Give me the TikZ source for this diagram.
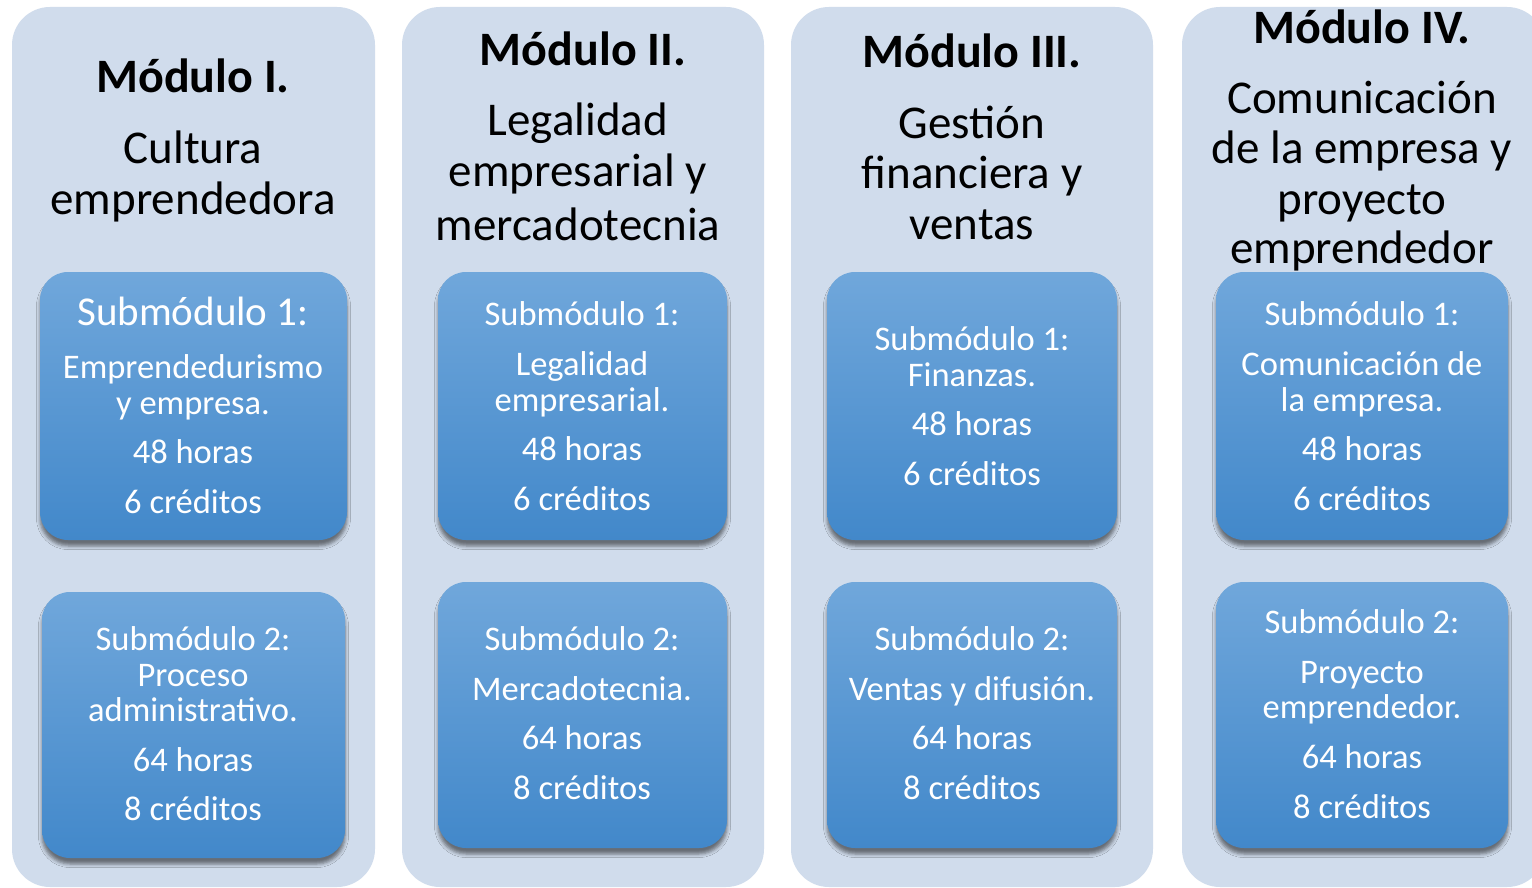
\documentclass[tikz,border=0pt]{standalone}
\usepackage{fontspec}
\setmainfont{Carlito}
\usetikzlibrary{shadows.blur}
\definecolor{panel}{RGB}{208,220,236}
\definecolor{btop}{RGB}{112,167,219}
\definecolor{bbot}{RGB}{66,136,202}
\begin{document}
\begin{tikzpicture}[x=1pt,y=-1pt,
  panelbox/.style={fill=panel, rounded corners=38pt, inner sep=0pt, minimum height=880pt},
  subbox/.style={rounded corners=28pt, top color=btop, bottom color=bbot, inner sep=0pt,
    blur shadow={shadow xshift=0pt, shadow yshift=-6pt, shadow blur radius=3.5pt, shadow opacity=50}},
  head/.style={font=\fontsize{47}{50}\selectfont, text height=0pt, text depth=0pt, inner sep=0pt, yshift=-16pt},
  headb/.style={font=\fontsize{48}{50}\selectfont\bfseries, text height=0pt, text depth=0pt, inner sep=0pt, yshift=-16pt},
  subt/.style={text=white, font=\fontsize{34.5}{36}\selectfont, text height=0pt, text depth=0pt, inner sep=0pt, yshift=-12pt},
  subbig/.style={text=white, font=\fontsize{41}{44}\selectfont, text height=0pt, text depth=0pt, inner sep=0pt, yshift=-14pt}]
\clip (0,0) rectangle (1532,888);
\fill[white] (0,0) rectangle (1532,888);
% panels
\node[panelbox, minimum width=363pt] (p1) at (193.5,447) {};
\node[panelbox, minimum width=362pt] (p2) at (583,447) {};
\node[panelbox, minimum width=362pt] (p3) at (972,447) {};
\node[panelbox, minimum width=363pt] (p4) at (1363.5,447) {};
% boxes
\node[subbox, minimum width=307pt, minimum height=268pt] (b1a) at (193.5,406) {};
\node[subbox, minimum width=289pt, minimum height=268pt] (b2a) at (582.5,406) {};
\node[subbox, minimum width=290pt, minimum height=268pt] (b3a) at (972,406) {};
\node[subbox, minimum width=292pt, minimum height=268pt] (b4a) at (1362,406) {};
\node[subbox, minimum width=303pt, minimum height=266pt] (b1b) at (193.5,725) {};
\node[subbox, minimum width=289pt, minimum height=266pt] (b2b) at (582.5,715) {};
\node[subbox, minimum width=290pt, minimum height=266pt] (b3b) at (972,715) {};
\node[subbox, minimum width=292pt, minimum height=266pt] (b4b) at (1362,715) {};
% headings
\node[headb] (h1) at (193,77) {Módulo I.};
\foreach \yy/\tx [count=\i] in {148/Cultura,198/emprendedora}
  \node[head] (h1l\i) at (193,\yy) {\tx};
\node[headb] (h2) at (583,50) {Módulo II.};
\foreach \yy/\tx [count=\i] in {120/Legalidad,170/empresarial y,224/mercadotecnia}
  \node[head] (h2l\i) at (578,\yy) {\tx};
\node[headb] (h3) at (972,52) {Módulo III.};
\foreach \yy/\tx [count=\i] in {123/Gestión,173/financiera y,223/ventas}
  \node[head] (h3l\i) at (972,\yy) {\tx};
\node[headb] (h4) at (1362,28) {Módulo IV.};
\foreach \yy/\tx [count=\i] in {98/Comunicación,148/de la empresa y,198/proyecto,247/emprendedor}
  \node[head] (h4l\i) at (1362,\yy) {\tx};
% box texts
\node[subbig] (s1a) at (193,311) {Submódulo 1:};
\foreach \yy/\tx [count=\i] in {366/Emprendedurismo,402/y empresa.,451/48 horas,501/6 créditos}
  \node[subt] (s1al\i) at (193,\yy) {\tx};
\foreach \yy/\tx [count=\i] in {313/Submódulo 1:,363/Legalidad,399/empresarial.,448/48 horas,498/6 créditos}
  \node[subt] (s2al\i) at (582,\yy) {\tx};
\foreach \yy/\tx [count=\i] in {338/Submódulo 1:,374/Finanzas.,423/48 horas,473/6 créditos}
  \node[subt] (s3al\i) at (972,\yy) {\tx};
\foreach \yy/\tx [count=\i] in {313/Submódulo 1:,363/Comunicación de,399/la empresa.,448/48 horas,498/6 créditos}
  \node[subt] (s4al\i) at (1362,\yy) {\tx};
\foreach \yy/\tx [count=\i] in {638/Submódulo 2:,674/Proceso,709/administrativo.,759/64 horas,808/8 créditos}
  \node[subt] (s1bl\i) at (193,\yy) {\tx};
\foreach \yy/\tx [count=\i] in {638/Submódulo 2:,688/Mercadotecnia.,737/64 horas,787/8 créditos}
  \node[subt] (s2bl\i) at (582,\yy) {\tx};
\foreach \yy/\tx [count=\i] in {638/Submódulo 2:,688/Ventas y difusión.,737/64 horas,787/8 créditos}
  \node[subt] (s3bl\i) at (972,\yy) {\tx};
\foreach \yy/\tx [count=\i] in {621/Submódulo 2:,671/Proyecto,706/emprendedor.,756/64 horas,806/8 créditos}
  \node[subt] (s4bl\i) at (1362,\yy) {\tx};
\end{tikzpicture}
\end{document}
